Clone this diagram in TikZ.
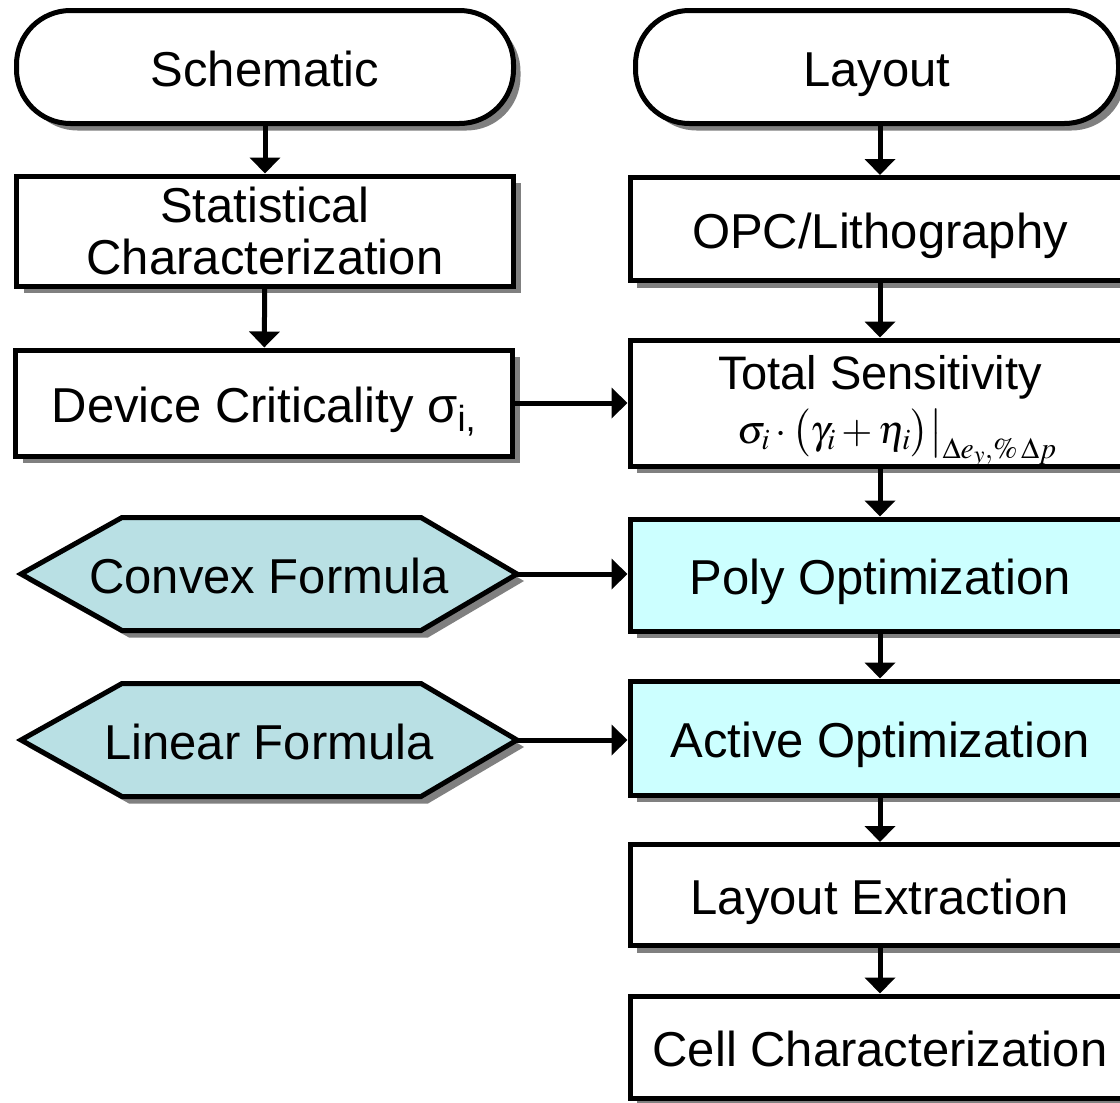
\documentclass[tikz,border=0pt]{standalone}
\usepackage{mathptmx}
\usepackage{fontspec}
\setmainfont{Liberation Sans}
\usetikzlibrary{shadows,arrows.meta,backgrounds}

\definecolor{hexfill}{RGB}{185,224,228}
\definecolor{optfill}{RGB}{204,255,255}
\definecolor{shadowgray}{RGB}{128,128,128}

\begin{document}
\begin{tikzpicture}[x=1pt,y=-1pt,
  dshadow/.style={drop shadow={shadow xshift=7pt, shadow yshift=-7pt, fill=shadowgray, opacity=1}},
  labelfont/.style={font=\fontsize{49}{52}\selectfont},
  oneline/.style={text height=40pt, text depth=2pt},
  box/.style={draw=black, line width=5pt, fill=white, rectangle,
    minimum width=497pt, inner sep=0pt, align=center, labelfont, dshadow},
  term/.style={box, oneline, rounded corners=54pt},
  optbox/.style={box, oneline, fill=optfill},
  hexlabel/.style={inner sep=0pt, outer sep=0pt, minimum width=496pt,
    minimum height=113pt, labelfont, oneline},
  hexshape/.style={draw=black, line width=5pt, line join=miter, fill=hexfill, dshadow},
  flow/.style={line width=5pt, -{Triangle[width=30pt,length=16pt]}}
]
\useasboundingbox (0,0) rectangle (1120,1103);
\clip (0,0) rectangle (1120,1103);

% left column
\node[term, minimum height=113pt] (sch) at (265,67) {Schematic};
\node[box, minimum height=110pt] (stat) at (265,231) {Statistical\\Characterization};
\node[box, oneline, minimum height=106pt] (dev) at (264,403) {Device Criticality σ\textsubscript{i,}};
\node[hexlabel] (cvx) at (269,574) {Convex Formula};
\node[hexlabel] (lin) at (269,740) {Linear Formula};

% hexagonal frames drawn behind the formula labels
\begin{scope}[on background layer]
  \foreach \h in {cvx,lin}
    \draw[hexshape] (\h.west) -- ([xshift=101pt]\h.north west)
      -- ([xshift=-96pt]\h.north east) -- (\h.east)
      -- ([xshift=-96pt]\h.south east) -- ([xshift=101pt]\h.south west) -- cycle;
\end{scope}

% right column
\node[term, minimum width=483pt, minimum height=113pt] (lay) at (877,67) {Layout};
\node[box, oneline, minimum width=500pt, minimum height=103pt] (opc) at (880,229) {OPC/Lithography};
\node[box, minimum width=500pt, minimum height=126pt] (tot) at (880,403) {};
\node[anchor=base, inner sep=0pt, font=\fontsize{47}{47}\selectfont] (totT) at (880,389) {Total Sensitivity};
\node[anchor=base, inner sep=0pt, font=\fontsize{40}{44}\selectfont] (totF) at (897,443)
  {$\sigma_{i}\cdot\bigl(\gamma_{i}+\eta_{i}\bigr)\bigr|_{\Delta e_{y},\%\,\Delta p}$};
\node[optbox, minimum width=500pt, minimum height=112pt] (poly) at (880,575) {Poly Optimization};
\node[optbox, minimum width=500pt, minimum height=114pt] (act) at (880,738) {Active Optimization};
\node[box, oneline, minimum width=500pt, minimum height=101pt] (lext) at (880,895) {Layout Extraction};
\node[box, oneline, minimum width=500pt, minimum height=102pt] (cell) at (880,1047) {Cell Characterization};

% connectors
\draw[flow] (sch) -- (stat);
\draw[flow] (stat) -- (dev);
\draw[flow] (dev.east) -- (dev.east -| tot.west);
\draw[flow] (opc.north |- lay.south) -- (opc.north);
\draw[flow] (opc) -- (tot);
\draw[flow] (tot) -- (poly);
\draw[flow] (poly) -- (act);
\draw[flow] (act) -- (lext);
\draw[flow] (lext) -- (cell);
\draw[flow] (cvx.east) -- (cvx.east -| poly.west);
\draw[flow] (lin.east) -- (lin.east -| act.west);
\end{tikzpicture}
\end{document}
